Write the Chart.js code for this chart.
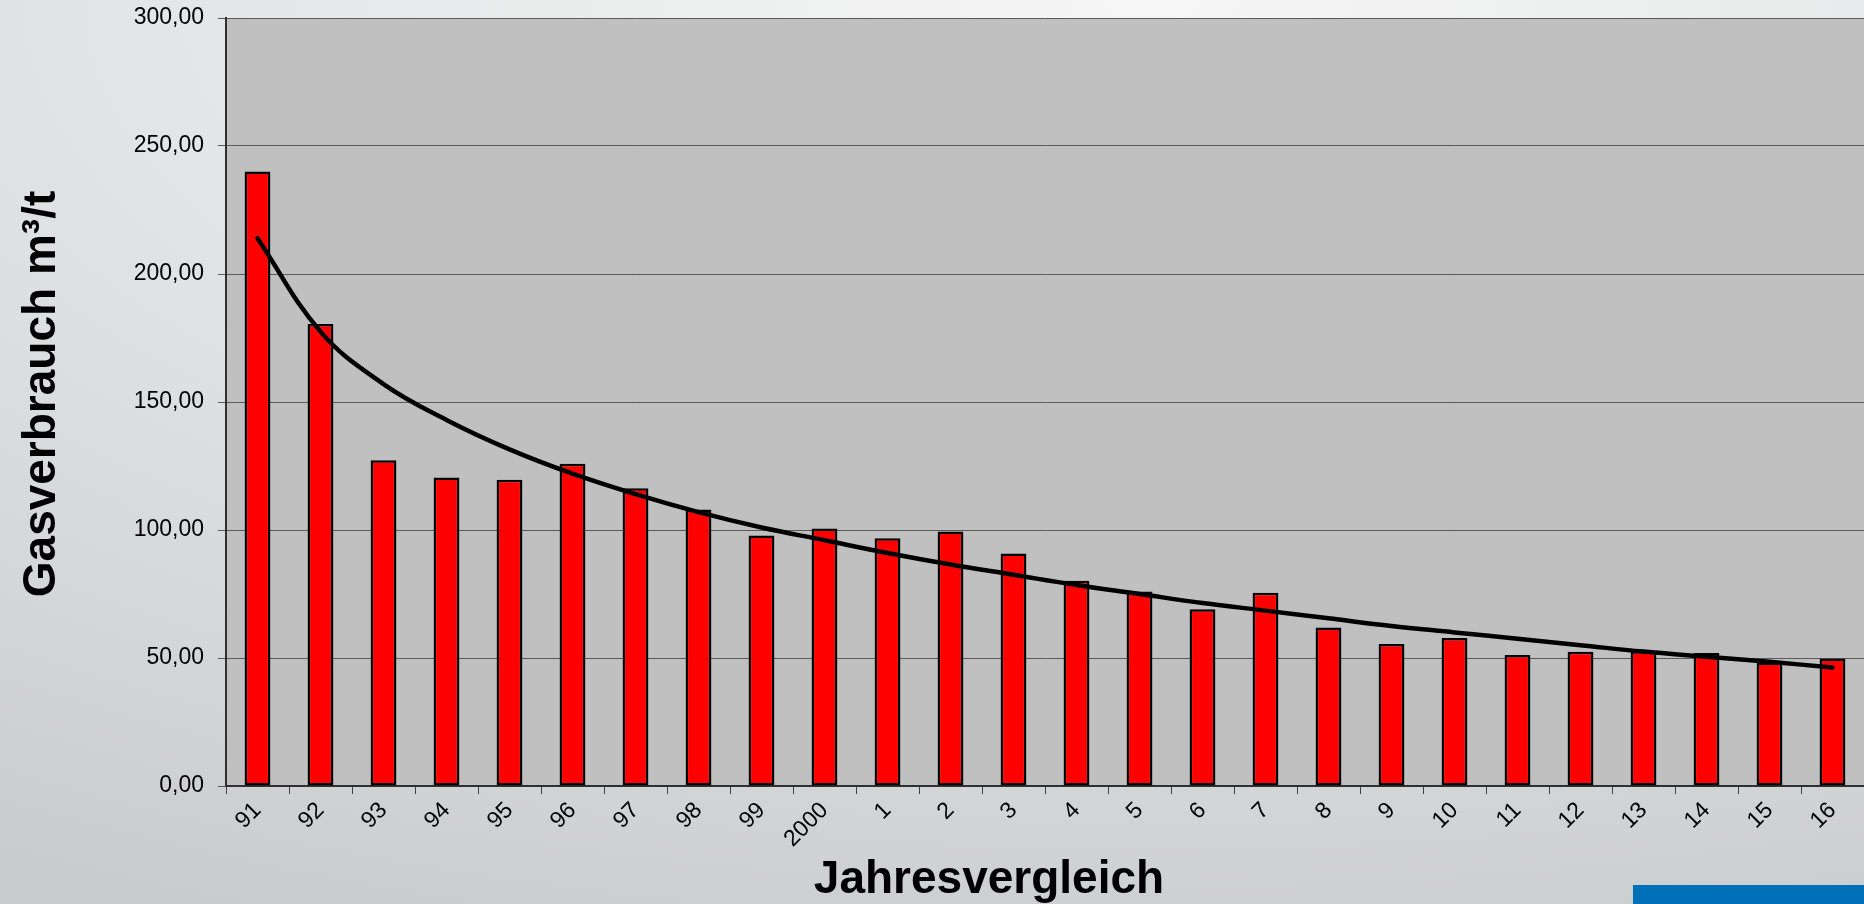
<!DOCTYPE html>
<html>
<head>
<meta charset="utf-8">
<script src="https://cdn.jsdelivr.net/npm/chart.js@4"></script>
<style>
  html, body {
    margin: 0;
    padding: 0;
  }
  body {
    width: 1864px;
    height: 904px;
    overflow: hidden;
    position: relative;
    background: radial-gradient(ellipse 120% 110% at 62% 0%, #f6f6f6 0%, #e4e5e6 45%, #c9cccd 100%);
  }
  #chart {
    position: absolute;
    left: 0;
    top: 0;
  }
  .blue-bar {
    position: absolute;
    left: 1633px;
    top: 885px;
    width: 231px;
    height: 19px;
    background: #0070b8;
  }
</style>
</head>
<body>
<canvas id="chart" width="1864" height="904"></canvas>
<div class="blue-bar"></div>
<script>
// Jahre (Kategorien)
const years = [
  "91", "92", "93", "94", "95", "96", "97", "98", "99", "2000",
  "1", "2", "3", "4", "5", "6", "7", "8", "9", "10",
  "11", "12", "13", "14", "15", "16",
];

// Gasverbrauch m³/t
const gasUsage = [
  240.0, 180.5, 127.2, 120.5, 119.6, 125.9, 116.3, 108.0, 97.9, 100.6,
  96.8, 99.4, 90.8, 80.2, 76.0, 69.0, 75.5, 61.9, 55.5, 57.8,
  51.2, 52.4, 52.6, 52.0, 48.2, 49.8,
];

// Trendlinie
const trendLine = [
  214, 177.5, 157, 143, 131.5, 122, 114, 107, 101, 96,
  91, 86.5, 82.5, 78.5, 75, 71.5, 68.5, 65.5, 62.5, 60,
  57.5, 55, 52.5, 50.5, 48.5, 46.3,
];

const yTitle = "Gasverbrauch m³/t";
const xTitle = "Jahresvergleich";

const FONT = "'Liberation Sans', Arial, sans-serif";

// grey plot area
const plotBackground = {
  id: "plotBackground",
  beforeDraw(chart) {
    const { ctx, chartArea } = chart;
    ctx.save();
    ctx.fillStyle = "#c0c0c0";
    ctx.fillRect(chartArea.left, chartArea.top,
      chartArea.right - chartArea.left, chartArea.bottom - chartArea.top);
    ctx.restore();
  },
};

// axis titles
const axisTitles = {
  id: "axisTitles",
  afterDraw(chart) {
    const ctx = chart.ctx;
    ctx.save();
    ctx.fillStyle = "#000";
    ctx.font = "bold 46px " + FONT;
    ctx.textAlign = "center";
    ctx.textBaseline = "alphabetic";
    ctx.fillText(xTitle, 989, 893);

    ctx.translate(55, 394);
    ctx.rotate(-Math.PI / 2);
    ctx.fillText(yTitle, 0, 0);
    ctx.restore();
  },
};

new Chart(document.getElementById("chart"), {
  type: "bar",
  data: {
    labels: years,
    datasets: [
      {
        type: "line",
        data: trendLine,
        borderColor: "#000",
        borderWidth: 4.5,
        borderCapStyle: "round",
        pointRadius: 0,
        tension: 0.4,
        fill: false,
        order: 0,
      },
      {
        type: "bar",
        data: gasUsage,
        backgroundColor: "#ff0000",
        borderColor: "#000",
        borderWidth: 2.5,
        borderSkipped: false,
        categoryPercentage: 1,
        barPercentage: 0.41,
        order: 1,
      },
    ],
  },
  options: {
    responsive: false,
    animation: false,
    layout: {
      padding: { top: 18, right: 0, bottom: 0, left: 0 },
    },
    plugins: {
      legend: { display: false },
      tooltip: { enabled: false },
    },
    scales: {
      x: {
        offset: true,
        grid: {
          offset: true,
          drawOnChartArea: false,
          drawTicks: true,
          tickLength: 8,
          color: "#404040",
        },
        border: { color: "#303030", width: 2 },
        ticks: {
          color: "#000",
          font: { family: FONT, size: 23 },
          minRotation: 45,
          maxRotation: 45,
          padding: 3,
          autoSkip: false,
        },
        afterFit(scale) {
          scale.height = 118;
          scale.paddingLeft = 0;
          scale.paddingRight = 0;
        },
      },
      y: {
        min: 0,
        max: 300,
        grid: {
          color: "#5a5a5a",
          lineWidth: 1,
          tickLength: 8,
        },
        border: { color: "#303030", width: 2 },
        ticks: {
          stepSize: 50,
          color: "#000",
          font: { family: FONT, size: 23 },
          padding: 14,
          callback: (v) => v.toFixed(2).replace(".", ","),
        },
        afterFit(scale) {
          scale.width = 226;
          scale.paddingTop = 0;
          scale.paddingBottom = 0;
        },
      },
    },
  },
  plugins: [plotBackground, axisTitles],
});
</script>
</body>
</html>
